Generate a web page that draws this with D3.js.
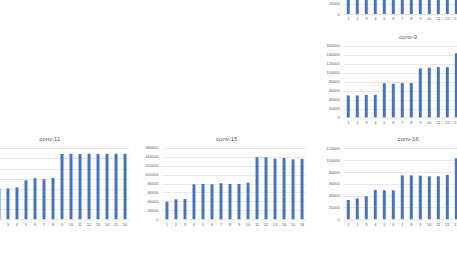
<!DOCTYPE html>
<html><head><meta charset="utf-8">
<script src="https://cdn.jsdelivr.net/npm/d3@7"></script>
<style>
html,body{margin:0;padding:0;background:#fff;overflow:hidden}
svg{display:block}
text{font-family:"Liberation Sans",Arial,sans-serif;fill:#595959}
</style></head>
<body>
<svg id="c" width="457" height="254"></svg>
<script>
// ---- data ----
const categories = ["1","2","3","4","5","6","7","8","9","10","11","12","13","14","15","16"];
const convTopValues = [52000,52000,53000,53000,78000,78000,79000,79000,110000,111000,112000,112000,143000,143000,143000,144000];
const conv9Values  = [49000,49000,50000,50500,76000,75000,76500,76500,109000,110500,112000,112000,142700,143000,143000,144000];
const conv11Values = [60000,61000,61000,63000,77000,81000,79000,81500,128800,129000,128800,129400,129000,129000,129400,129000];
const conv15Values = [39300,44700,45400,78200,79000,78200,80500,79000,79000,82000,138500,138500,135500,137000,134000,135000];
const conv16Values = [32500,35300,38700,49300,48800,48800,74000,74000,73500,72400,72400,74700,102700,103000,103000,103500];
const ticks160 = [0,20000,40000,60000,80000,100000,120000,140000,160000];
const ticks140 = [0,20000,40000,60000,80000,100000,120000,140000];
const ticks120 = [0,20000,40000,60000,80000,100000,120000];

const W = 457, H = 254;
const svg = d3.select("#c");

function drawChart(opt){
  const g = svg.append("g");
  const yMax = opt.ticks[opt.ticks.length-1];
  const x = d3.scaleBand().domain(categories)
    .range([opt.left, opt.left + 144]).paddingInner(0.67).paddingOuter(0.33);
  const y = d3.scaleLinear().domain([0, yMax])
    .range([opt.base, opt.base - opt.px * yMax / 20000]);

  // gridlines
  g.append("g").selectAll("line").data(opt.ticks.slice(1)).join("line")
    .attr("x1", opt.left).attr("x2", opt.left + 144)
    .attr("y1", d => Math.round(y(d)) + 0.5).attr("y2", d => Math.round(y(d)) + 0.5)
    .attr("stroke", "#d9d9d9").attr("stroke-width", 0.6);

  // y axis labels
  const ya = g.append("g").attr("transform", `translate(${opt.left},0)`)
    .call(d3.axisLeft(y).tickValues(opt.ticks).tickSize(0).tickPadding(4).tickFormat(d => String(d)));
  ya.select(".domain").remove();
  ya.selectAll("text").attr("font-size", 4).style("fill", "#595959").attr("font-family", "Liberation Sans, Arial, sans-serif");

  // bars
  g.append("g").selectAll("rect").data(opt.values).join("rect")
    .attr("x", (d,i) => x(categories[i]))
    .attr("width", x.bandwidth())
    .attr("y", d => y(d))
    .attr("height", d => y(0) - y(d))
    .attr("fill", "#4472C4");

  // x axis
  const xa = g.append("g").attr("transform", `translate(0,${opt.base})`)
    .call(d3.axisBottom(x).tickSize(0).tickPadding(3.5));
  xa.select(".domain").attr("stroke", "#d9d9d9").attr("stroke-width", 0.6);
  xa.selectAll("text").attr("font-size", 4).style("fill", "#595959").attr("font-family", "Liberation Sans, Arial, sans-serif");

  // title
  g.append("text").attr("x", opt.left + 64.3).attr("y", opt.base - 80.5)
    .attr("dy", "0.35em").attr("text-anchor", "middle")
    .attr("font-size", 6).text(opt.title);
}

drawChart({title:"conv-8",  values:convTopValues, ticks:ticks140, left:343.8, base:14,    px:10.5});
drawChart({title:"conv-9",  values:conv9Values,   ticks:ticks160, left:343.8, base:117.5, px:9.0});
drawChart({title:"conv-11", values:conv11Values,  ticks:ticks140, left:-14.5, base:219.3, px:10.14});
drawChart({title:"conv-15", values:conv15Values,  ticks:ticks160, left:162.5, base:219.3, px:8.95});
drawChart({title:"conv-16", values:conv16Values,  ticks:ticks120, left:343.8, base:219.3, px:11.88});

// drop texts that fall entirely outside the visible window (the reference is a crop)
svg.selectAll("text").each(function(){
  const b = this.getBoundingClientRect();
  if (b.right <= 0 || b.bottom <= 0 || b.left >= W || b.top >= H) d3.select(this).remove();
});
</script>
</body></html>
